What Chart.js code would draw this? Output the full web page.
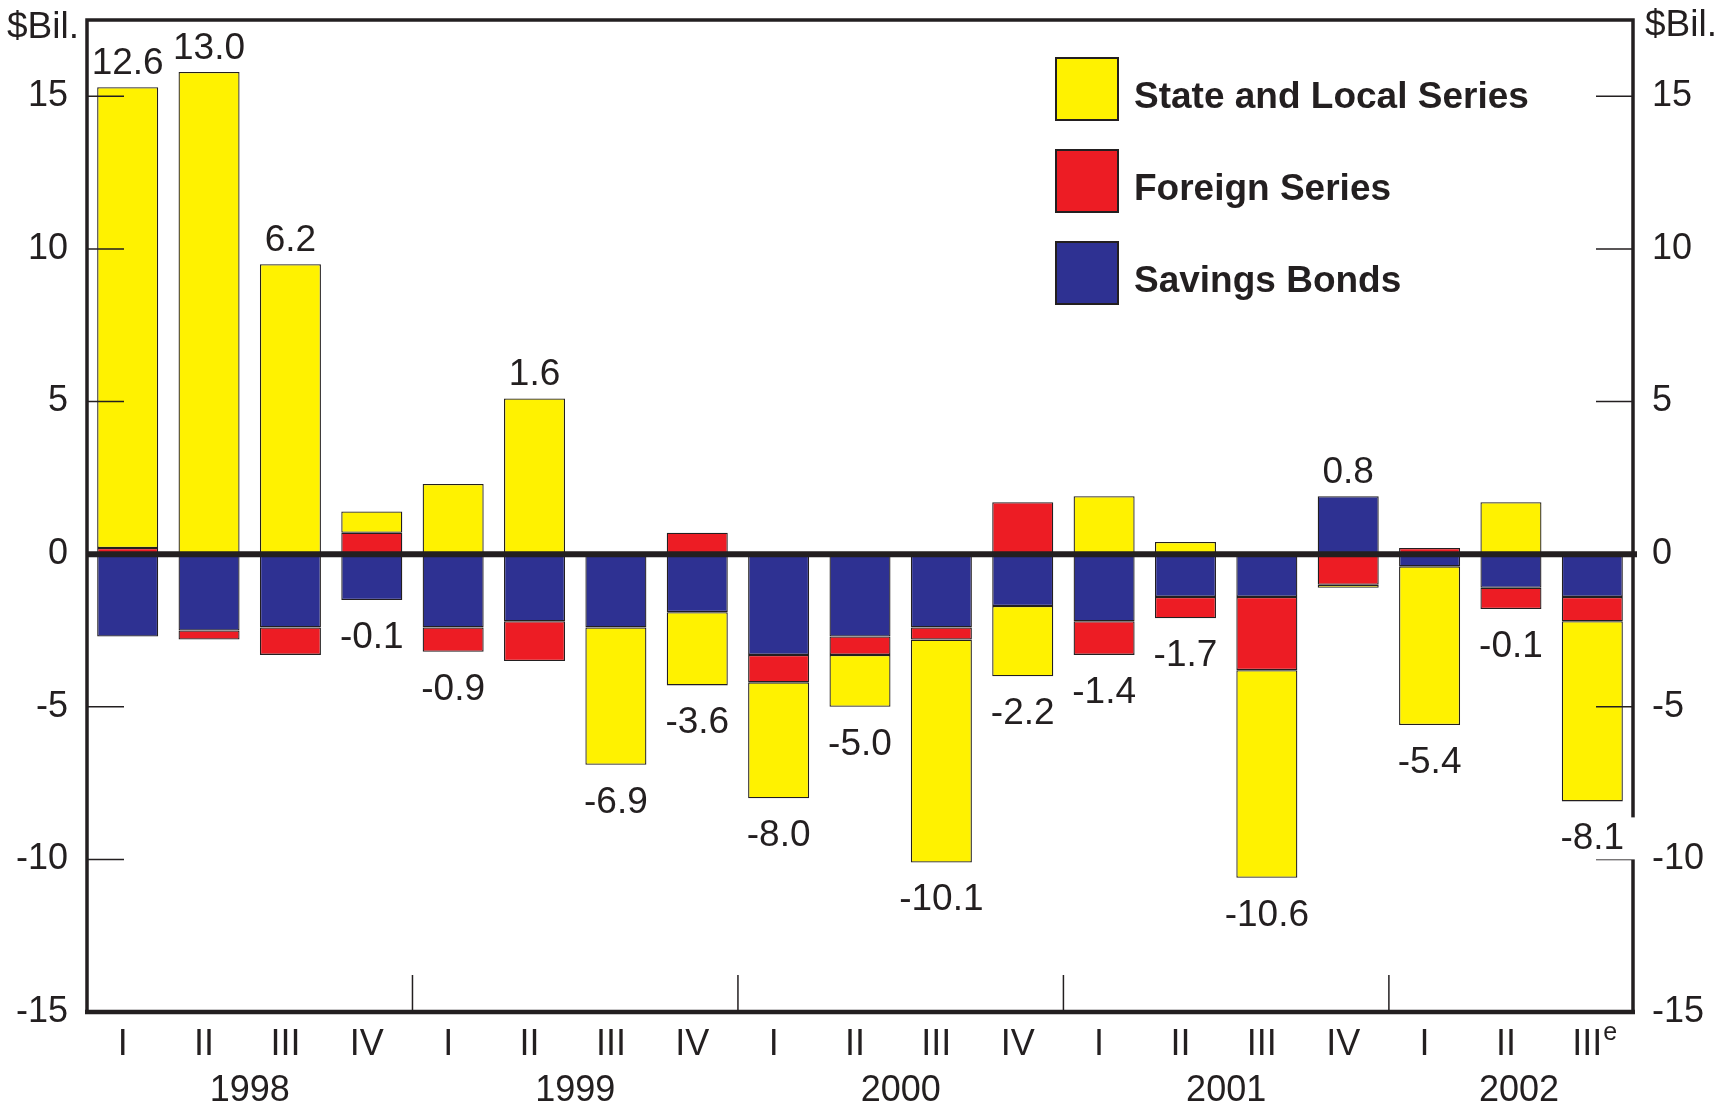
<!DOCTYPE html>
<html>
<head>
<meta charset="utf-8">
<title>Nonmarketable debt changes</title>
<script src="https://cdn.jsdelivr.net/npm/chart.js@4.4.1/dist/chart.umd.min.js"></script>
<style>
  body { margin: 0; background: #ffffff; }
  #wrap { width: 1732px; height: 1108px; }
</style>
</head>
<body>
<div id="wrap"><canvas id="chart" width="1732" height="1108"></canvas></div>
<script>
// quarters and years along the bottom
const quarters = ['I', 'II', 'III', 'IV', 'I', 'II', 'III', 'IV', 'I', 'II', 'III', 'IV',
  'I', 'II', 'III', 'IV', 'I', 'II', 'III'];
const years = ['1998', '1999', '2000', '2001', '2002'];
const quartersPerYear = [4, 4, 4, 4, 3];

// $ billions
const savingsBonds = [-2.7, -2.5, -2.4, -1.5, -2.4, -2.2, -2.4, -1.9, -3.3, -2.7,
  -2.4, -1.7, -2.2, -1.4, -1.4, 1.9, -0.4, -1.1, -1.4];
const foreignSeries = [0.2, -0.3, -0.9, 0.7, -0.8, -1.3, null, 0.7, -0.9, -0.6,
  -0.4, 1.7, -1.1, -0.7, -2.4, -1.0, 0.2, -0.7, -0.8];
const stateLocal = [15.1, 15.8, 9.5, 0.7, 2.3, 5.1, -4.5, -2.4, -3.8, -1.7,
  -7.3, -2.3, 1.9, 0.4, -6.8, -0.1, -5.2, 1.7, -5.9];
// net totals printed on the chart
const totals = [12.6, 13.0, 6.2, -0.1, -0.9, 1.6, -6.9, -3.6, -8.0, -5.0,
  -10.1, -2.2, -1.4, -1.7, -10.6, 0.8, -5.4, -0.1, -8.1];
const yTicks = [-15, -10, -5, 0, 5, 10, 15];

const ink = '#231f20';
const family = "'Liberation Sans', Arial, sans-serif";

/* extra drawing: inward ticks, frame, zero line, labels, legend */
const decorations = {
  id: 'decorations',
  afterDatasetsDraw(chart) {
    const { ctx, chartArea: a, scales } = chart;
    const x = scales.x, y = scales.y;
    ctx.save();
    ctx.strokeStyle = ink;
    ctx.fillStyle = ink;

    // tick marks pointing into the plot on both sides
    ctx.lineWidth = 1.5;
    yTicks.forEach(v => {
      const py = y.getPixelForValue(v);
      ctx.beginPath();
      ctx.moveTo(a.left, py); ctx.lineTo(a.left + 37, py);
      ctx.moveTo(a.right, py); ctx.lineTo(a.right - 37, py);
      ctx.stroke();
    });

    // year separators at the bottom
    let idx = 0;
    quartersPerYear.slice(0, -1).forEach(n => {
      idx += n;
      const px = (x.getPixelForValue(idx - 1) + x.getPixelForValue(idx)) / 2;
      ctx.beginPath();
      ctx.moveTo(px, a.bottom); ctx.lineTo(px, a.bottom - 37);
      ctx.stroke();
    });

    // zero line
    const y0 = y.getPixelForValue(0);
    ctx.lineWidth = 6;
    ctx.beginPath();
    ctx.moveTo(a.left, y0); ctx.lineTo(a.right + 4, y0);
    ctx.stroke();

    // frame
    ctx.lineWidth = 3.5;
    ctx.strokeRect(a.left, a.top, a.right - a.left, a.bottom - a.top);
    ctx.lineWidth = 4.5;
    ctx.beginPath();
    ctx.moveTo(a.left - 2, a.bottom); ctx.lineTo(a.right + 2, a.bottom);
    ctx.stroke();

    // net totals above / below each stack
    ctx.font = `37px ${family}`;
    ctx.textAlign = 'center';
    ctx.textBaseline = 'alphabetic';
    const sets = chart.data.datasets;
    totals.forEach((t, i) => {
      let pos = 0, neg = 0;
      sets.forEach(ds => {
        const v = ds.data[i];
        if (v > 0) pos += v; else if (v < 0) neg += v;
      });
      const px = x.getPixelForValue(i);
      const txt = t.toFixed(1);
      const py = t >= 0 ? y.getPixelForValue(pos) - 13 : y.getPixelForValue(neg) + 48;
      const w = ctx.measureText(txt).width;
      if (px + w / 2 > a.right - 15) {
        ctx.fillStyle = '#ffffff';
        ctx.fillRect(px - w / 2 - 4, py - 32, a.right + 4 - (px - w / 2 - 4), 42);
        ctx.fillStyle = ink;
      }
      ctx.fillText(txt, px, py);
    });

    // year labels
    ctx.font = `36px ${family}`;
    let start = 0;
    years.forEach((yr, k) => {
      const n = quartersPerYear[k];
      const cx = (x.getPixelForValue(start) + x.getPixelForValue(start + n - 1)) / 2;
      ctx.fillText(yr, cx + (n < 4 ? 8 : 0), 1101);
      start += n;
    });

    // estimate mark on the last quarter
    const lastX = x.getPixelForValue(quarters.length - 1) - 5;
    const wIII = ctx.measureText(quarters[quarters.length - 1]).width;
    ctx.font = `25px ${family}`;
    ctx.textAlign = 'left';
    ctx.fillText('e', lastX + wIII / 2 + 1, 1040);

    // unit labels
    ctx.font = `37px ${family}`;
    ctx.fillText('$Bil.', 7, 38);
    ctx.fillText('$Bil.', 1645, 36);

    // legend
    const legendOrder = sets.slice().reverse();
    ctx.font = `bold 37px ${family}`;
    legendOrder.forEach((ds, k) => {
      const top = 58 + k * 92;
      ctx.fillStyle = ds.backgroundColor;
      ctx.fillRect(1056, top, 62, 62);
      ctx.lineWidth = 2;
      ctx.strokeRect(1056, top, 62, 62);
      ctx.fillStyle = ink;
      ctx.fillText(ds.label, 1134, top + 31 + 19);
    });

    ctx.restore();
  }
};

const barStyle = {
  borderColor: ink,
  borderWidth: 1.3,
  borderSkipped: false,
  categoryPercentage: 0.75,
  barPercentage: 1.0
};

const yAxis = (side, width) => ({
  position: side,
  stacked: true,
  min: -15,
  max: 17.5,
  afterBuildTicks: s => { s.ticks = yTicks.map(v => ({ value: v })); },
  afterFit: s => { s.width = width; s.paddingTop = 0; s.paddingBottom = 0; },
  grid: { display: false, drawTicks: false },
  border: { display: false },
  ticks: { font: { family: family, size: 36 }, color: ink, padding: 19 }
});

new Chart(document.getElementById('chart'), {
  type: 'bar',
  data: {
    labels: quarters,
    datasets: [
      { label: 'Savings Bonds', data: savingsBonds, backgroundColor: '#2e3192', ...barStyle },
      { label: 'Foreign Series', data: foreignSeries, backgroundColor: '#ed1c24', ...barStyle },
      { label: 'State and Local Series', data: stateLocal, backgroundColor: '#fff200', ...barStyle }
    ]
  },
  options: {
    responsive: false,
    animation: false,
    devicePixelRatio: 1,
    layout: { padding: { top: 20 } },
    plugins: { legend: { display: false }, tooltip: { enabled: false } },
    scales: {
      x: {
        stacked: true,
        afterFit: s => { s.height = 96; s.paddingLeft = 0; s.paddingRight = 0; },
        grid: { display: false, drawTicks: false },
        border: { display: false },
        ticks: { font: { family: family, size: 36 }, color: ink, padding: 11, labelOffset: -5, maxRotation: 0, autoSkip: false }
      },
      y: yAxis('left', 87),
      y2: yAxis('right', 99)
    }
  },
  plugins: [decorations]
});
</script>
</body>
</html>
